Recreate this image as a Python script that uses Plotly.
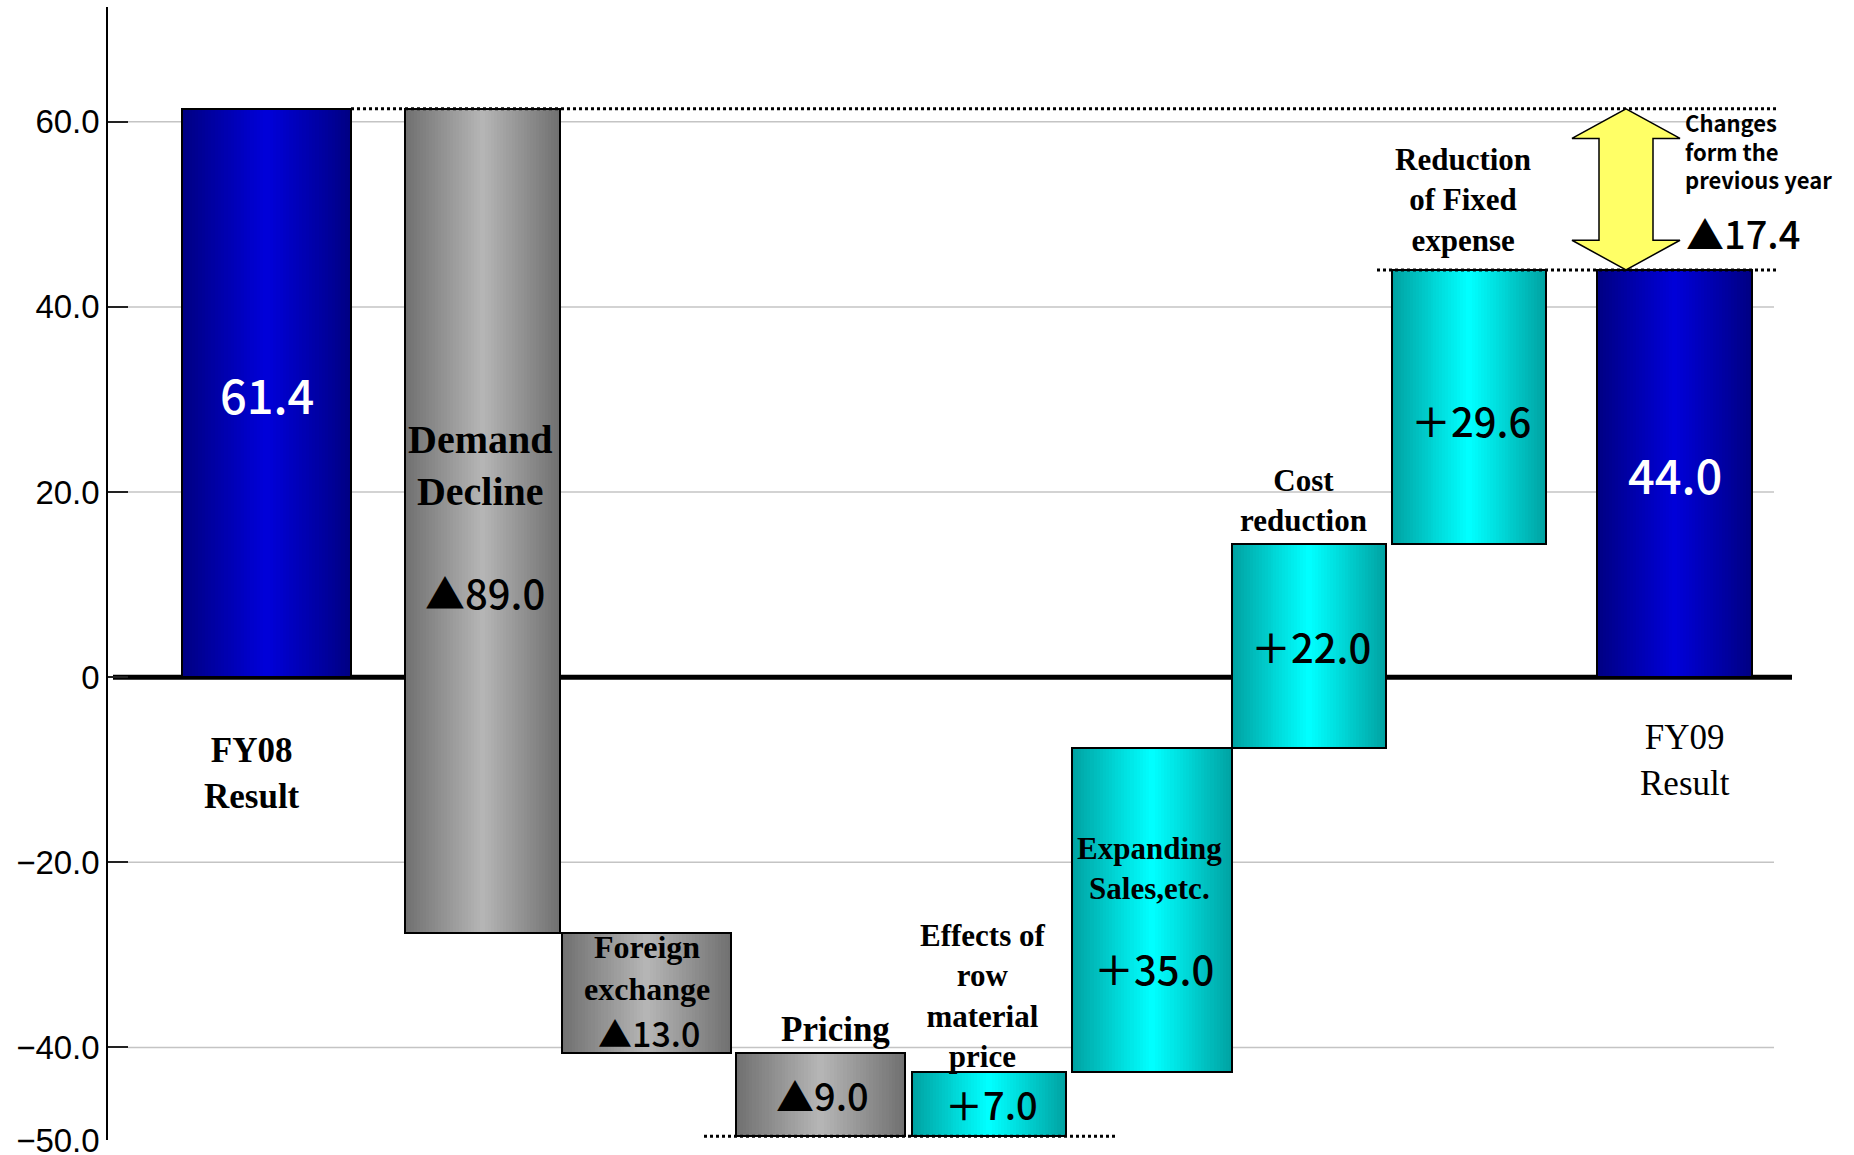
import plotly.graph_objects as go

# ---- data -------------------------------------------------------------
categories = [
    "FY08 Result", "Demand Decline", "Foreign exchange", "Pricing",
    "Effects of row material price", "Expanding Sales,etc.",
    "Cost reduction", "Reduction of Fixed expense", "FY09 Result",
]
changes = [61.4, -89.0, -13.0, -9.0, 7.0, 35.0, 22.0, 29.6, 44.0]
kinds = ["total", "decrease", "decrease", "decrease",
         "increase", "increase", "increase", "increase", "total"]

tick_vals = [60, 40, 20, 0, -20, -40, -50]
tick_text = ["60.0", "40.0", "20.0", "0", "\u221220.0", "\u221240.0", "\u221250.0"]
grid_vals = [60, 40, 20, -20, -40]

# ---- layout constants -------------------------------------------------
W, H = 1854, 1155
bar_x = [266.5, 482.5, 646.5, 820.5, 989, 1152, 1309, 1469, 1674.5]
bar_w = [169, 155, 169, 169, 154, 160, 154, 154, 155]
value_label_y = [30.7, 9.2, -38.4, -45.1, -46.1, -31.4, 3.4, 27.8, 22.0]
value_label_size = [47, 40, 34, 38, 38, 40, 40, 40, 47]

SERIF = "Liberation Serif"
GOTHIC = "Noto Sans CJK JP"
SANS = "Liberation Sans"

palette = {
    "total": ("#000084", "#0000d8"),
    "decrease": ("#717171", "#b5b5b5"),
    "increase": ("#00a3a3", "#00ffff"),
}

# ---- waterfall geometry ----------------------------------------------
bottoms, tops = [], []
running = 0.0
for v, k in zip(changes, kinds):
    if k == "total":
        lo, hi = 0.0, v
        running = v
    else:
        lo, hi = sorted((running, running + v))
        running += v
    bottoms.append(round(lo, 6))
    tops.append(round(hi, 6))
heights = [t - b for t, b in zip(tops, bottoms)]


def hex_to_rgb(h):
    h = h.lstrip("#")
    return tuple(int(h[i:i + 2], 16) for i in (0, 2, 4))


def lerp(c0, c1, t):
    a, b = hex_to_rgb(c0), hex_to_rgb(c1)
    r = [round(a[i] + (b[i] - a[i]) * t) for i in range(3)]
    return f"rgb({r[0]},{r[1]},{r[2]})"


fig = go.Figure()

# horizontal shading: nested bars, each narrower and lighter than the last
LAYERS = 26
for kind, (edge, mid) in palette.items():
    idx = [i for i, k in enumerate(kinds) if k == kind]
    for j in range(LAYERS):
        t = j / (LAYERS - 1)
        frac = 1 - j / LAYERS
        fig.add_trace(go.Bar(
            x=[bar_x[i] for i in idx],
            y=[heights[i] for i in idx],
            base=[bottoms[i] for i in idx],
            width=[bar_w[i] * frac for i in idx],
            marker=dict(color=lerp(edge, mid, t), line=dict(width=0)),
            hoverinfo="skip", showlegend=False,
        ))

# outlines
fig.add_trace(go.Bar(
    x=bar_x, y=heights, base=bottoms, width=bar_w,
    marker=dict(color="rgba(0,0,0,0)", line=dict(color="#000000", width=2)),
    customdata=categories, hovertemplate="%{customdata}<extra></extra>",
    showlegend=False,
))

# ---- reference lines --------------------------------------------------
shapes = []
for g in grid_vals:
    shapes.append(dict(type="line", xref="x", yref="y", x0=128, x1=1774, y0=g, y1=g,
                       line=dict(color="#c4c4c4", width=1.5), layer="below"))
shapes.append(dict(type="line", xref="x", yref="y", x0=113, x1=1792, y0=0, y1=0,
                   line=dict(color="#000000", width=5), layer="below"))

start_total, end_total = changes[0], changes[-1]
dotted = dict(color="#000000", width=3, dash="3px,3px")
shapes.append(dict(type="line", xref="x", yref="y", x0=351, x1=1777,
                   y0=start_total, y1=start_total, line=dotted))
shapes.append(dict(type="line", xref="x", yref="y", x0=1377, x1=1777,
                   y0=end_total, y1=end_total, line=dotted))
low_point = min(bottoms)
shapes.append(dict(type="line", xref="x", yref="y", x0=704, x1=1117,
                   y0=low_point, y1=low_point, line=dotted))

# double-headed arrow between the two results
cx, head_w, shaft_w, head_h = 1626, 54, 27, 3.2
top, bot = start_total, end_total
pts = [
    (cx, top), (cx + head_w, top - head_h), (cx + shaft_w, top - head_h),
    (cx + shaft_w, bot + head_h), (cx + head_w, bot + head_h), (cx, bot),
    (cx - head_w, bot + head_h), (cx - shaft_w, bot + head_h),
    (cx - shaft_w, top - head_h), (cx - head_w, top - head_h),
]
path = "M " + " L ".join(f"{x},{y}" for x, y in pts) + " Z"
shapes.append(dict(type="path", xref="x", yref="y", path=path,
                   fillcolor="#ffff66", line=dict(color="#000000", width=1.5)))

# ---- text -------------------------------------------------------------
def value_text(v, k):
    if k == "total":
        return f"{v:.1f}"
    return ("\u25b2" if v < 0 else "\uff0b") + f"{abs(v):.1f}"


annotations = []
for i, (v, k) in enumerate(zip(changes, kinds)):
    annotations.append(dict(
        x=bar_x[i] + (2 if k != "total" else 0), y=value_label_y[i],
        xref="x", yref="y", text=value_text(v, k), showarrow=False,
        font=dict(family=GOTHIC, size=value_label_size[i], weight=500,
                  color="#ffffff" if k == "total" else "#000000"),
    ))


def caption(text, x, y, size, yanchor="middle", yshift=0, bold=True,
            xanchor="center", family=SERIF, align="center"):
    return dict(x=x, y=y, xref="x", yref="y", text=f"<b>{text}</b>" if bold else text,
                showarrow=False, xanchor=xanchor, yanchor=yanchor, yshift=yshift,
                align=align, font=dict(family=family, size=size, color="#000000"))


annotations += [
    caption("FY08<br>Result", 252, 0, 35, yanchor="top", yshift=-52),
    caption("Demand<br>Decline", 480, 22.9, 40),
    caption("Foreign<br>exchange", 647, -31.4, 32),
    caption("Pricing", 835, tops[3], 35, yanchor="bottom", yshift=2),
    caption("Effects of<br>row<br>material<br>price", 982, tops[4], 31, yanchor="bottom", yshift=-4),
    caption("Expanding<br>Sales,etc.", 1149, -20.7, 31),
    caption("Cost<br>reduction", 1303, tops[6], 31, yanchor="bottom", yshift=4),
    caption("Reduction<br>of Fixed<br>expense", 1463, tops[7], 31, yanchor="bottom", yshift=10),
    caption("FY09<br>Result", 1685, 0, 35, yanchor="top", yshift=-39, bold=False),
    dict(x=1683, y=start_total, xref="x", yref="y", showarrow=False,
         text="<b>Changes<br>form the<br>previous year</b>", align="left",
         xanchor="left", yanchor="top", yshift=5,
         font=dict(family=GOTHIC, size=22, color="#000000")),
    dict(x=1684, y=end_total, xref="x", yref="y", showarrow=False,
         text="\u25b2" + f"{start_total - end_total:.1f}",
         xanchor="left", yanchor="bottom", yshift=8,
         font=dict(family=GOTHIC, size=38, weight=500, color="#000000")),
]

fig.update_layout(
    width=W, height=H,
    margin=dict(l=108, r=0, t=7, b=15),
    paper_bgcolor="#ffffff", plot_bgcolor="#ffffff",
    barmode="overlay", bargap=0,
    shapes=shapes, annotations=annotations,
    showlegend=False,
    xaxis=dict(range=[108, W], visible=False, fixedrange=True),
    yaxis=dict(
        range=[-50, 72.4], tickvals=tick_vals, ticktext=tick_text,
        showgrid=False, zeroline=False,
        showline=True, linecolor="#000000", linewidth=1.5,
        ticks="inside", ticklen=20, tickwidth=1.5, tickcolor="#222222",
        tickfont=dict(family=SANS, size=33, color="#000000"),
        ticklabeloverflow="allow", automargin=False,
        fixedrange=True,
    ),
)

fig.write_html("out.html")
